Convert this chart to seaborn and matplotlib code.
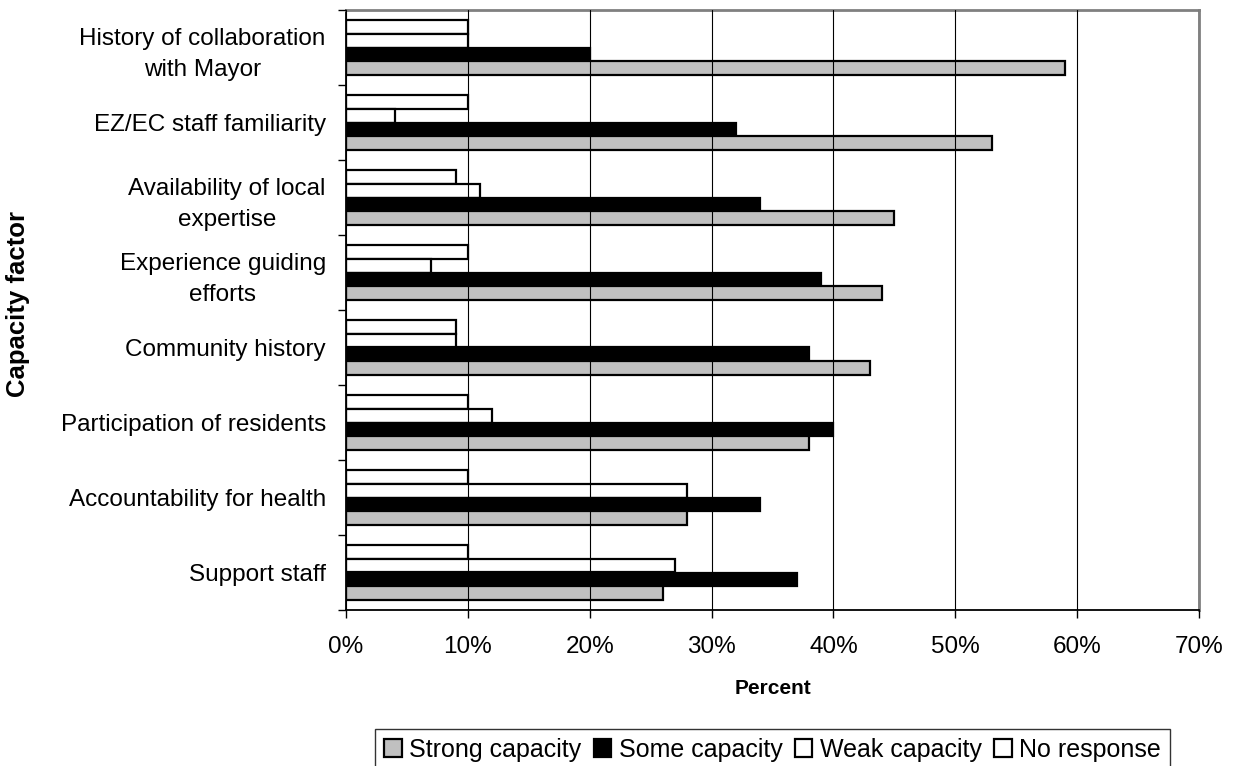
import matplotlib
matplotlib.use("Agg")
import matplotlib.pyplot as plt
import seaborn as sns
import pandas as pd
import numpy as np
from matplotlib.patches import Patch
from matplotlib.ticker import PercentFormatter, FixedLocator

factors = ["History of collaboration\nwith Mayor", "EZ/EC staff familiarity",
           "Availability of local\nexpertise", "Experience guiding\nefforts",
           "Community history", "Participation of residents",
           "Accountability for health", "Support staff"]

no_response = [10, 10, 9, 10, 9, 10, 10, 10]
weak_capacity = [10, 4, 11, 7, 9, 12, 28, 27]
some_capacity = [20, 32, 34, 39, 38, 40, 34, 37]
strong_capacity = [59, 53, 45, 44, 43, 38, 28, 26]

series = {"No response": no_response, "Weak capacity": weak_capacity,
          "Some capacity": some_capacity, "Strong capacity": strong_capacity}
colors = {"No response": "white", "Weak capacity": "white",
          "Some capacity": "black", "Strong capacity": "#C0C0C0"}

rows = []
for name, vals in series.items():
    for f, v in zip(factors, vals):
        rows.append({"factor": f, "value": v, "response": name})
df = pd.DataFrame(rows)

sns.set_style("white")
plt.rcParams['font.family'] = ['Liberation Sans', 'DejaVu Sans']
plt.rcParams['text.color'] = 'black'
plt.rcParams['axes.labelcolor'] = 'black'
plt.rcParams['xtick.color'] = 'black'
plt.rcParams['ytick.color'] = 'black'

fig, ax = plt.subplots(figsize=(12.36, 7.66), dpi=100)
fig.subplots_adjust(left=346/1236, right=1199/1236, top=1-10/766, bottom=1-610/766)

sns.barplot(data=df, y="factor", x="value", hue="response", order=factors,
            hue_order=list(series.keys()), palette=colors, orient="h",
            width=0.73, edgecolor="black", linewidth=1.6, ax=ax, legend=False)

ax.set_xlim(0, 70)
ax.set_ylim(len(factors) - 0.5, -0.5)
ax.xaxis.set_major_locator(FixedLocator(np.arange(0, 71, 10)))
ax.xaxis.set_major_formatter(PercentFormatter(100, decimals=0))
ax.grid(axis="x", color="black", linewidth=0.8)
ax.grid(axis="y", visible=False)
ax.set_axisbelow(False)

# ticks at the category boundaries, labels in the middle
ax.yaxis.set_minor_locator(FixedLocator(np.arange(-0.5, len(factors), 1.0)))
ax.tick_params(axis="y", which="major", length=0, pad=14.5, labelsize=17.5)
ax.tick_params(axis="y", which="minor", length=6, width=1, color="black", direction="out", left=True)
ax.tick_params(axis="x", which="major", length=6, width=1, color="black", direction="out",
               bottom=True, pad=13, labelsize=17.5)
for lab in ax.get_yticklabels():
    lab.set_horizontalalignment("right")
    lab.set_multialignment("center")
    lab.set_linespacing(1.55)

for s in ["left", "bottom"]:
    ax.spines[s].set_color("black")
    ax.spines[s].set_linewidth(1.3)
for s in ["top", "right"]:
    ax.spines[s].set_color("#808080")
    ax.spines[s].set_linewidth(2)

ax.set_xlabel("Percent", fontsize=15, fontweight="bold", labelpad=15)
ax.set_ylabel("Capacity factor", fontsize=18.5, fontweight="bold")
ax.yaxis.set_label_coords(-316/853, 0.51)

legend_order = ["Strong capacity", "Some capacity", "Weak capacity", "No response"]
handles = [Patch(facecolor=colors[n], edgecolor="black", linewidth=1.6) for n in legend_order]
leg = fig.legend(handles, legend_order, loc="upper center", bbox_to_anchor=(772.5/1236, 1-729/766),
                 ncol=4, fontsize=18, frameon=True, fancybox=False, edgecolor="black",
                 handlelength=0.7, handleheight=0.7, handletextpad=0.3, columnspacing=0.5,
                 borderpad=0.35, borderaxespad=0)
leg.get_frame().set_linewidth(1)

fig.savefig("out.png", dpi=100)
